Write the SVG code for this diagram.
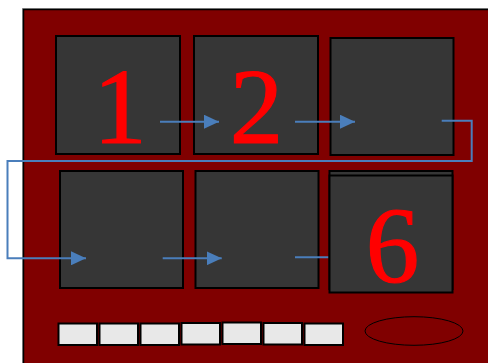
<svg xmlns="http://www.w3.org/2000/svg" width="488" height="363" viewBox="0 0 488 363">
<style>
.box{fill:#363636;stroke:#000;stroke-width:2}
.key{fill:#e8e8e8;stroke:#000;stroke-width:2}
.num{font-family:"Liberation Serif","Times New Roman",serif;font-size:107px;fill:#ff0000;stroke:#ff0000;stroke-width:1.2;text-anchor:middle}
.conn{fill:none;stroke:#4a7ebb;stroke-width:2}
</style>
<defs>
<marker id="arr" markerWidth="16" markerHeight="14" refX="15" refY="7" orient="auto" markerUnits="userSpaceOnUse">
<path d="M0,0 L15,7 L0,14 Z" fill="#4a7ebb"/>
</marker>
</defs>
<g id="frame">
<rect x="22.5" y="8.5" width="480" height="370" fill="none" stroke="#9a9a9a" stroke-width="1"/>
<rect x="23.5" y="9.5" width="480" height="370" fill="#800000" stroke="#000" stroke-width="1.5"/>
</g>
<g id="node1"><rect class="box" x="56" y="36" width="124" height="118"/><text class="num" x="120" y="142.5">1</text></g>
<g id="node2"><rect class="box" x="194" y="36" width="124" height="118"/><text class="num" x="256.5" y="142.5">2</text></g>
<g id="node3"><rect class="box" x="330.5" y="38" width="123" height="117"/></g>
<g id="node4"><rect class="box" x="60" y="171" width="123" height="117"/></g>
<g id="node5"><rect class="box" x="195.5" y="171" width="123" height="117"/></g>
<g id="connectors">
<line class="conn" x1="160" y1="121.7" x2="219" y2="121.7" marker-end="url(#arr)"/>
<line class="conn" x1="295" y1="121.7" x2="355" y2="121.7" marker-end="url(#arr)"/>
<polyline class="conn" stroke-width="1.5" points="441.7,120.7 471.7,120.7 471.7,161 7.5,161 7.5,258.3 86,258.3" marker-end="url(#arr)"/>
<line class="conn" x1="162.7" y1="258.3" x2="221.7" y2="258.3" marker-end="url(#arr)"/>
<line class="conn" x1="295" y1="257.3" x2="345" y2="257.3" marker-end="url(#arr)"/>
</g>
<g id="node6">
<rect class="box" x="329.5" y="171" width="123" height="118"/>
<rect class="box" x="329.5" y="175.5" width="123" height="117"/>
<text class="num" x="392.5" y="281.5">6</text>
</g>
<g id="keys">
<rect class="key" x="58.5" y="323.5" width="38.5" height="21.5"/>
<rect class="key" x="99.5" y="323.5" width="38.5" height="21.5"/>
<rect class="key" x="140.5" y="323.5" width="38.5" height="21.5"/>
<rect class="key" x="181.5" y="323" width="38.5" height="21.5"/>
<rect class="key" x="222.5" y="322.5" width="38.5" height="21.5"/>
<rect class="key" x="263.5" y="323" width="38.5" height="21.5"/>
<rect class="key" x="304.5" y="323.5" width="38.5" height="21.5"/>
</g>
<g id="ellipse"><ellipse cx="414" cy="331" rx="49" ry="14.3" fill="none" stroke="#000" stroke-width="1"/></g>
</svg>
